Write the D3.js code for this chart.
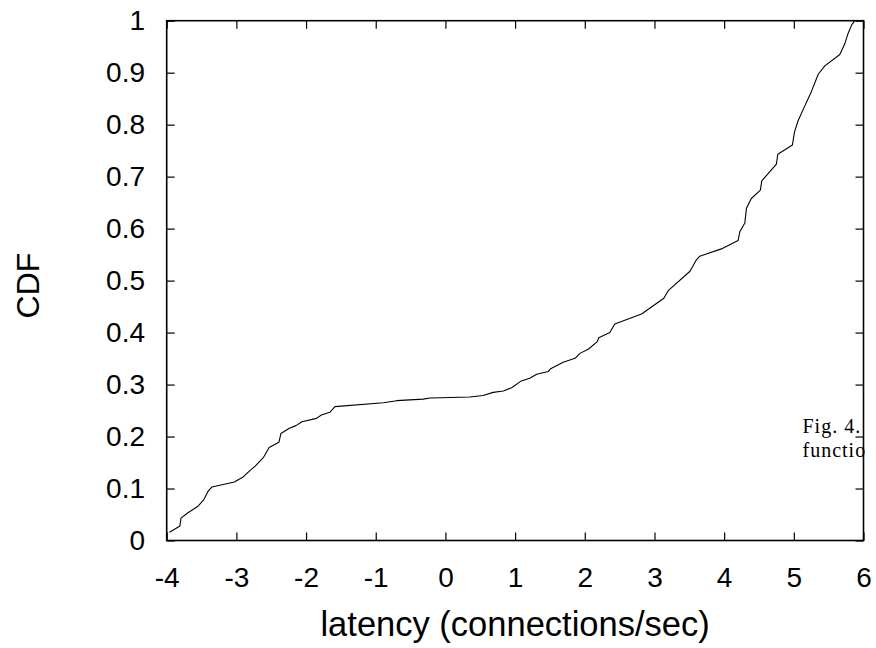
<!DOCTYPE html>
<html>
<head>
<meta charset="utf-8">
<script src="https://cdn.jsdelivr.net/npm/d3@7"></script>
<style>
  html, body { margin: 0; padding: 0; background: #fff; }
  svg { display: block; }
</style>
</head>
<body>
<svg id="chart" width="876" height="648"></svg>
<script>
// ---- data ----
const latency = [-3.96, -3.81, -3.795, -3.70, -3.55, -3.47, -3.41, -3.35, -3.03, -2.91,
  -2.81, -2.73, -2.61, -2.53, -2.39, -2.36, -2.24, -2.145, -2.06, -1.85,
  -1.78, -1.66, -1.585, -0.89, -0.70, -0.32, -0.22, 0.35, 0.54, 0.686,
  0.83, 0.95, 1.09, 1.21, 1.31, 1.475, 1.51, 1.69, 1.86, 1.93,
  2.05, 2.18, 2.20, 2.36, 2.43, 2.815, 3.135, 3.197, 3.51, 3.60,
  3.65, 3.96, 4.20, 4.225, 4.297, 4.32, 4.39, 4.52, 4.54, 4.75,
  4.77, 4.98, 5.01, 5.06, 5.13, 5.25, 5.35, 5.445, 5.66, 5.73,
  5.78, 5.83, 5.875];
const cdf = [0.016, 0.028, 0.043, 0.053, 0.066, 0.078, 0.094, 0.103, 0.1125, 0.1215,
  0.134, 0.143, 0.160, 0.179, 0.189, 0.206, 0.216, 0.221, 0.2286, 0.235,
  0.2415, 0.2466, 0.2575, 0.265, 0.269, 0.272, 0.274, 0.276, 0.279, 0.285,
  0.2876, 0.294, 0.307, 0.312, 0.320, 0.325, 0.3305, 0.343, 0.3505, 0.360,
  0.368, 0.3825, 0.390, 0.400, 0.4165, 0.4357, 0.466, 0.4806, 0.518, 0.5396,
  0.547, 0.561, 0.577, 0.594, 0.611, 0.639, 0.658, 0.674, 0.692, 0.724,
  0.743, 0.761, 0.786, 0.807, 0.828, 0.863, 0.897, 0.913, 0.935, 0.955,
  0.976, 0.992, 1.0];
const xTicks = [-4, -3, -2, -1, 0, 1, 2, 3, 4, 5, 6];
const yTicks = [0, 0.1, 0.2, 0.3, 0.4, 0.5, 0.6, 0.7, 0.8, 0.9, 1];
const xTitle = "latency (connections/sec)";
const yTitle = "CDF";
const captionLines = ["Fig. 4.", "functio"];

// ---- layout ----
const pLeft = 166.7, pRight = 863.5, pTop = 20.7, pBottom = 540.5;
const svg = d3.select("#chart");
const x = d3.scaleLinear().domain([-4, 6]).range([pLeft, pRight]);
const y = d3.scaleLinear().domain([0, 1]).range([pBottom, pTop]);
const fmt = d => String(+d.toFixed(1));
const tickFont = "Liberation Sans, Arial, Helvetica, sans-serif";

function styleAxis(g) {
  g.select(".domain").remove();
  g.selectAll(".tick line").attr("stroke", "#000").attr("stroke-width", 1.2);
  g.selectAll(".tick text").attr("fill", "#000").attr("font-size", 28).attr("font-family", tickFont);
}

svg.append("g").attr("transform", `translate(0,${pBottom})`)
  .call(d3.axisBottom(x).tickValues(xTicks).tickFormat(fmt).tickSizeInner(-8).tickSizeOuter(0).tickPadding(26.6))
  .call(styleAxis);
svg.append("g").attr("transform", `translate(0,${pTop})`)
  .call(d3.axisTop(x).tickValues(xTicks).tickFormat("").tickSizeInner(-8).tickSizeOuter(0))
  .call(styleAxis);
svg.append("g").attr("transform", `translate(${pLeft},0)`)
  .call(d3.axisLeft(y).tickValues(yTicks).tickFormat(fmt).tickSizeInner(-8).tickSizeOuter(0).tickPadding(21.7))
  .call(styleAxis);
svg.append("g").attr("transform", `translate(${pRight},0)`)
  .call(d3.axisRight(y).tickValues(yTicks).tickFormat("").tickSizeInner(-8).tickSizeOuter(0))
  .call(styleAxis);

// frame
svg.append("rect")
  .attr("x", pLeft).attr("y", pTop)
  .attr("width", pRight - pLeft).attr("height", pBottom - pTop)
  .attr("fill", "none").attr("stroke", "#000").attr("stroke-width", 1.6);

// curve
const pts = latency.map((v, i) => [v, cdf[i]]);
svg.append("path")
  .datum(pts)
  .attr("fill", "none").attr("stroke", "#000").attr("stroke-width", 1.1)
  .attr("stroke-linejoin", "round")
  .attr("d", d3.line().x(d => x(d[0])).y(d => y(d[1])));

// axis titles
svg.append("text")
  .attr("x", (pLeft + pRight) / 2).attr("y", 636)
  .attr("text-anchor", "middle")
  .attr("font-family", tickFont).attr("font-size", 34.5)
  .text(xTitle);
svg.append("text")
  .attr("transform", `translate(39,${(pTop + pBottom) / 2 + 5}) rotate(-90)`)
  .attr("text-anchor", "middle")
  .attr("font-family", tickFont).attr("font-size", 32)
  .text(yTitle);

// clipped caption fragment
svg.append("clipPath").attr("id", "capclip")
  .append("rect").attr("x", 0).attr("y", 0).attr("width", 869.5).attr("height", 648);
const cap = svg.append("g").attr("clip-path", "url(#capclip)");
cap.selectAll("text").data(captionLines).join("text")
  .attr("x", 802.5).attr("y", (d, i) => 433 + i * 24)
  .attr("font-family", "Liberation Serif, Times New Roman, serif")
  .attr("font-size", 20)
  .attr("letter-spacing", 1)
  .attr("fill", "#000")
  .text(d => d);
</script>
</body>
</html>
